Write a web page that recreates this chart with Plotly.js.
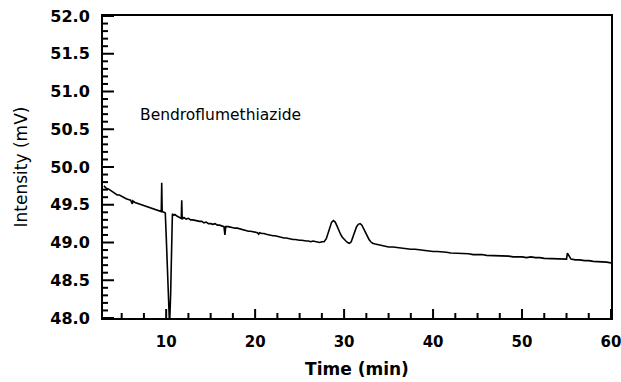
<!DOCTYPE html>
<html>
<head>
<meta charset="utf-8">
<script src="https://cdn.plot.ly/plotly-3.0.1.min.js"></script>
<style>html,body{margin:0;padding:0;background:#fff;}#chart{width:621px;height:382px;}</style>
</head>
<body>
<div id="chart"></div>
<script>
// Retention time (min)
const timeMin = [
  3.0,3.25,3.5,3.75,4.0,4.25,4.5,4.75,5.0,5.25,5.5,5.75,6.0,6.2,6.25,6.5,6.75,7.0,7.25,7.5,7.75,8.0,8.25,8.5,8.75,9.0,9.25,9.45,9.5,9.55,9.75,9.9,
  10.0,10.15,10.3,10.38,10.5,10.6,10.7,10.85,11.0,11.2,11.4,11.6,11.7,11.75,11.8,12.0,12.25,12.5,12.75,13.0,13.25,13.5,13.75,14.0,14.25,14.5,14.75,
  15.0,15.25,15.5,15.75,16.0,16.3,16.5,16.6,16.7,17.0,17.25,17.5,17.75,18.0,18.25,18.5,18.75,19.0,19.25,19.5,19.75,20.0,20.25,20.4,20.5,20.75,
  21.0,21.25,21.5,21.75,22.0,22.25,22.5,22.75,23.0,23.25,23.5,23.75,24.0,24.25,24.5,24.75,25.0,25.25,25.5,25.75,26.0,26.25,26.5,26.75,27.0,27.25,
  27.5,27.75,28.0,28.2,28.4,28.6,28.8,29.0,29.2,29.4,29.6,29.8,30.0,30.2,30.4,30.6,30.8,31.0,31.2,31.4,31.6,31.8,32.0,32.2,32.4,32.6,32.8,33.0,
  33.2,33.5,33.8,34.1,34.4,34.7,35.0,35.5,36.0,36.5,37.0,37.5,38.0,38.5,39.0,39.5,40.0,40.5,41.0,41.5,42.0,42.5,43.0,43.5,44.0,44.5,45.0,45.5,
  46.0,46.5,47.0,47.5,48.0,48.5,49.0,49.5,50.0,50.5,51.0,51.5,52.0,52.5,53.0,53.5,54.0,54.5,54.9,55.0,55.1,55.5,56.0,56.5,57.0,57.5,58.0,58.5,
  59.0,59.5,60.0
];
// Detector signal (mV)
const intensityMV = [
  49.75,49.72,49.71,49.69,49.67,49.66,49.63,49.63,49.61,49.59,49.58,49.57,49.56,49.51,49.55,49.53,49.52,49.51,49.50,49.49,49.48,49.47,49.46,49.45,49.44,49.43,49.42,49.41,49.79,49.41,49.40,49.39,
  49.10,48.45,47.95,47.90,48.30,48.90,49.38,49.36,49.37,49.35,49.34,49.33,49.32,49.56,49.31,49.33,49.31,49.32,49.30,49.30,49.29,49.29,49.28,49.28,49.26,49.27,49.25,
  49.25,49.24,49.25,49.23,49.23,49.22,49.21,49.10,49.21,49.21,49.20,49.20,49.19,49.19,49.18,49.17,49.17,49.16,49.15,49.15,49.14,49.14,49.13,49.11,49.13,49.12,
  49.12,49.11,49.10,49.10,49.09,49.09,49.08,49.07,49.07,49.06,49.06,49.05,49.05,49.04,49.04,49.03,49.03,49.03,49.02,49.02,49.02,49.01,49.02,49.01,49.01,49.00,
  49.01,49.01,49.05,49.12,49.21,49.27,49.29,49.27,49.22,49.16,49.11,49.07,49.04,49.02,49.00,48.99,49.01,49.07,49.15,49.21,49.24,49.25,49.23,49.18,49.13,49.08,49.04,49.01,
  48.99,48.98,48.97,48.96,48.95,48.95,48.94,48.94,48.93,48.93,48.92,48.91,48.91,48.90,48.89,48.89,48.88,48.88,48.87,48.87,48.86,48.86,48.86,48.85,48.85,48.84,48.84,48.84,
  48.83,48.83,48.83,48.82,48.82,48.82,48.81,48.81,48.81,48.80,48.81,48.80,48.80,48.79,48.79,48.79,48.79,48.78,48.78,48.78,48.86,48.78,48.77,48.77,48.76,48.76,48.75,48.75,
  48.74,48.74,48.73
];
const xTickVals = [10, 20, 30, 40, 50, 60];
const xMinorTickVals = [5, 7.5, 12.5, 15, 17.5, 22.5, 25, 27.5, 32.5, 35, 37.5, 42.5, 45, 47.5, 52.5, 55, 57.5];
const yTickVals = [48.0,48.5,49.0,49.5,50.0,50.5,51.0,51.5,52.0];
const yMinorTickVals = [48.1,48.2,48.3,48.4,48.6,48.7,48.8,48.9,49.1,49.2,49.3,49.4,49.6,49.7,49.8,49.9,
  50.1,50.2,50.3,50.4,50.6,50.7,50.8,50.9,51.1,51.2,51.3,51.4,51.6,51.7,51.8,51.9];
const compoundLabel = "Bendroflumethiazide";

const FONT = 'DejaVu Sans, Arial, sans-serif';
const X_RANGE = [2.9, 60];
const Y_RANGE = [48, 52];
const W = 621, H = 382, M = {l: 103, r: 10, t: 16, b: 64};
const PLOT_W = W - M.l - M.r, PLOT_H = H - M.t - M.b;
// tick lengths in pixels, converted to axis units
const pxToX = (X_RANGE[1] - X_RANGE[0]) / PLOT_W;
const pxToY = (Y_RANGE[1] - Y_RANGE[0]) / PLOT_H;

const trace = {
  x: timeMin, y: intensityMV, type: 'scatter', mode: 'lines',
  line: {color: '#000', width: 1.6}, hoverinfo: 'skip'
};

// Inward tick marks drawn as short line segments from the frame
function xTicks(vals, lenPx) {
  const xs = [], ys = [];
  vals.forEach(v => { xs.push(v, v, null); ys.push(Y_RANGE[0], Y_RANGE[0] + lenPx * pxToY, null); });
  return {x: xs, y: ys, type: 'scatter', mode: 'lines', connectgaps: false, hoverinfo: 'skip',
          line: {color: '#000', width: 2}};
}
function yTicks(vals, lenPx) {
  const xs = [], ys = [];
  vals.forEach(v => { xs.push(X_RANGE[0], X_RANGE[0] + lenPx * pxToX, null); ys.push(v, v, null); });
  return {x: xs, y: ys, type: 'scatter', mode: 'lines', connectgaps: false, hoverinfo: 'skip',
          line: {color: '#000', width: 2}};
}

const layout = {
  width: W, height: H,
  margin: M,
  showlegend: false,
  font: {family: FONT, color: '#000'},
  xaxis: {
    range: X_RANGE, tickvals: xTickVals, ticks: '',
    showline: true, linewidth: 2, linecolor: '#000', mirror: true,
    showgrid: false, zeroline: false,
    ticklabeloverflow: 'allow',
    tickfont: {family: FONT, size: 15, weight: 'bold', color: '#000'},
    ticklabelstandoff: 9,
    title: {text: 'Time (min)', font: {family: FONT, size: 17, weight: 'bold', color: '#000'}, standoff: 13}
  },
  yaxis: {
    range: Y_RANGE, tickvals: yTickVals, tickformat: '.1f', ticks: '',
    showline: true, linewidth: 2, linecolor: '#000', mirror: true,
    showgrid: false, zeroline: false,
    tickfont: {family: FONT, size: 16, weight: 'bold', color: '#000'},
    ticklabelstandoff: 8,
    title: {text: 'Intensity (mV)', font: {family: FONT, size: 17, color: '#000'}, standoff: 18}
  },
  annotations: [{
    text: compoundLabel, xref: 'x', yref: 'y', x: 6.8, y: 50.69,
    xanchor: 'left', yanchor: 'middle', showarrow: false,
    font: {family: FONT, size: 15.5, color: '#000'}
  }]
};

Plotly.newPlot('chart', [
  xTicks(xTickVals, 9), xTicks(xMinorTickVals, 5),
  yTicks(yTickVals, 11), yTicks(yMinorTickVals, 5),
  trace
], layout, {staticPlot: true, displayModeBar: false});
</script>
</body>
</html>
